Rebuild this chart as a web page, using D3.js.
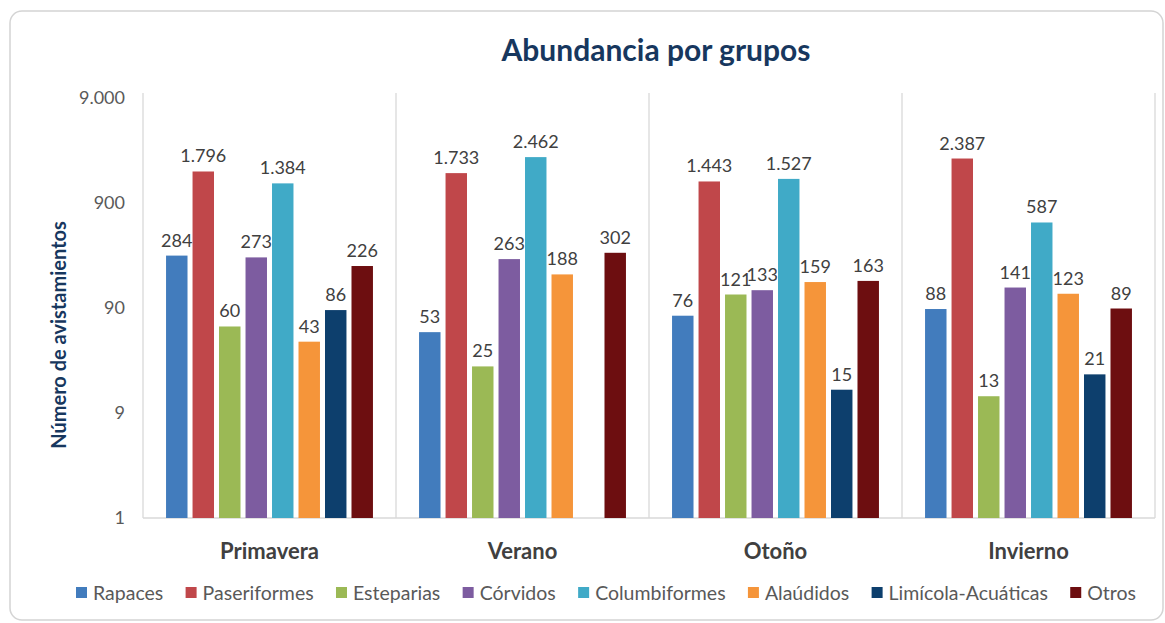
<!DOCTYPE html>
<html>
<head>
<meta charset="utf-8">
<script src="https://cdn.jsdelivr.net/npm/d3@7"></script>
<style>
  html, body { margin: 0; padding: 0; background: #fff; }
  svg { display: block; font-family: Lato, "Open Sans", sans-serif; }
</style>
</head>
<body>
<div id="chart"></div>
<script>
// season groups and bird groups
const seasons = ['Primavera', 'Verano', 'Otoño', 'Invierno'];
const groups = ['Rapaces', 'Paseriformes', 'Esteparias', 'Córvidos', 'Columbiformes', 'Alaúdidos', 'Limícola-Acuáticas', 'Otros'];
const groupColors = ['#427cbd', '#c0474a', '#9bb955', '#7d5ca0', '#40aac7', '#f5953a', '#0d3f6d', '#6d0e10'];

// one array per group, values in season order (null = no bar)
const rapaces       = [284, 53, 76, 88];
const paseriformes  = [1796, 1733, 1443, 2387];
const esteparias    = [60, 25, 121, 13];
const corvidos      = [273, 263, 133, 141];
const columbiformes = [1384, 2462, 1527, 587];
const alaudidos     = [43, 188, 159, 123];
const limicola      = [86, null, 15, 21];
const otros         = [226, 302, 163, 89];

const yTicks = [0.9, 9, 90, 900, 9000];

const seriesValues = [rapaces, paseriformes, esteparias, corvidos, columbiformes, alaudidos, limicola, otros];

const W = 1165, H = 623;
const M = { top: 98, right: 10, bottom: 105, left: 143 };
const innerW = 1155 - M.left, innerH = 518 - M.top;

const loc = d3.formatLocale({ decimal: ',', thousands: '.', grouping: [3], currency: ['', ''] });
const fmt = loc.format(',.0f');

const svg = d3.select('#chart').append('svg').attr('width', W).attr('height', H);

// chart frame
svg.append('rect').attr('x', 10).attr('y', 11).attr('width', 1153).attr('height', 609)
  .attr('rx', 12).attr('fill', '#fff').attr('stroke', '#d4d4d4').attr('stroke-width', 1.5);

const inner = svg.append('g').attr('transform', `translate(${M.left},${M.top})`);

const x0 = d3.scaleBand().domain(seasons).range([0, innerW]).padding(0);
const x1 = d3.scaleBand().domain(groups).range([0, x0.bandwidth()])
  .paddingInner(0.19).paddingOuter(0.87);
const y = d3.scaleLog().domain([0.9, 9000]).range([innerH, 0]);

// category separators
inner.append('g').selectAll('line')
  .data([0, ...seasons.map(s => x0(s) + x0.bandwidth())])
  .join('line')
  .attr('x1', d => d).attr('x2', d => d)
  .attr('y1', -5).attr('y2', innerH)
  .attr('stroke', '#d9d9d9').attr('stroke-width', 1.3);

inner.append('line').attr('x1', 0).attr('x2', innerW).attr('y1', innerH).attr('y2', innerH)
  .attr('stroke', '#d9d9d9').attr('stroke-width', 1.3);

// y tick labels
inner.append('g').selectAll('text').data(yTicks).join('text')
  .attr('x', -18).attr('y', d => y(d)).attr('dy', '0.35em')
  .attr('text-anchor', 'end').attr('fill', '#595959').style('font-size', '18px')
  .text(d => fmt(d));

// bars
const rows = [];
seasons.forEach((s, si) => {
  groups.forEach((g, gi) => {
    const v = seriesValues[gi][si];
    if (v != null) rows.push({ season: s, group: g, gi, v });
  });
});

inner.append('g').selectAll('rect').data(rows).join('rect')
  .attr('x', d => x0(d.season) + x1(d.group))
  .attr('y', d => y(d.v))
  .attr('width', x1.bandwidth())
  .attr('height', d => innerH - y(d.v))
  .attr('fill', d => groupColors[d.gi]);

inner.append('g').selectAll('text').data(rows).join('text')
  .attr('x', d => x0(d.season) + x1(d.group) + x1.bandwidth() / 2)
  .attr('y', d => y(d.v) - 9)
  .attr('text-anchor', 'middle').attr('fill', '#404040').style('font-size', '18px')
  .text(d => fmt(d.v));

// category labels
inner.append('g').selectAll('text').data(seasons).join('text')
  .attr('x', d => x0(d) + x0.bandwidth() / 2).attr('y', innerH + 33)
  .attr('dy', '0.35em').attr('text-anchor', 'middle')
  .attr('fill', '#404040').style('font-size', '22px').style('font-weight', 'bold')
  .text(d => d);

// title
svg.append('text').attr('x', 656).attr('y', 61).attr('text-anchor', 'middle')
  .attr('fill', '#17375e').style('font-size', '30px').style('font-weight', 'bold')
  .text('Abundancia por grupos');

// y axis title
svg.append('text').attr('transform', 'translate(66,335) rotate(-90)')
  .attr('text-anchor', 'middle').attr('fill', '#17375e')
  .style('font-size', '20px').style('font-weight', 'bold')
  .text('Número de avistamientos');

// legend
const leg = svg.append('g');
const items = leg.selectAll('g').data(groups).join('g');
items.append('rect').attr('width', 11).attr('height', 11).attr('y', -6)
  .attr('fill', (d, i) => groupColors[i]);
items.append('text').attr('x', 17).attr('dy', '0.35em')
  .attr('fill', '#595959').style('font-size', '19.5px').text(d => d);
const widths = items.nodes().map(n => 17 + n.querySelector('text').getComputedTextLength());
const legL = 76, legR = 1136;
const gap = (legR - legL - d3.sum(widths)) / (groups.length - 1);
let cx = legL;
items.each(function (d, i) {
  d3.select(this).attr('transform', `translate(${cx},593)`);
  cx += widths[i] + gap;
});
</script>
</body>
</html>
